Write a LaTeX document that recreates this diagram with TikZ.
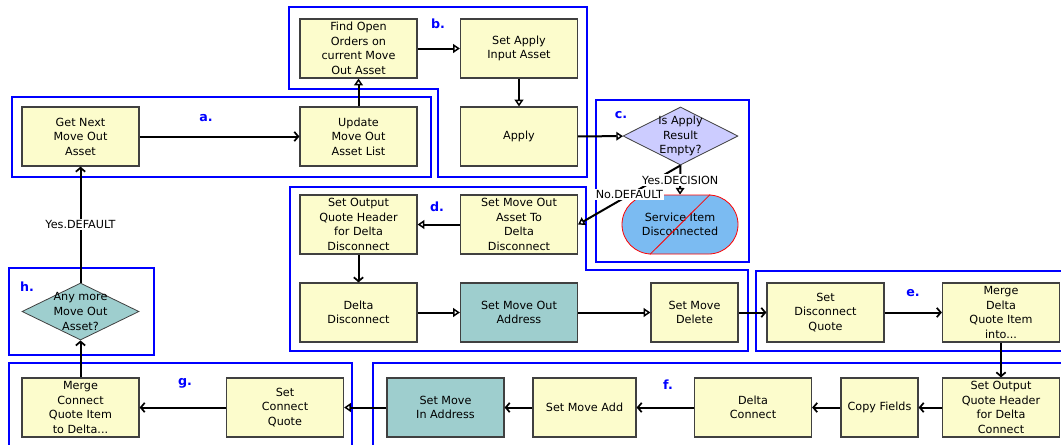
\documentclass[tikz,border=0pt]{standalone}
\usepackage{fontspec}
\setmainfont{DejaVu Sans}
\usetikzlibrary{arrows.meta,shapes.geometric,shapes.misc,calc}
\definecolor{boxfill}{HTML}{FCFCCC}
\definecolor{boxdraw}{HTML}{404040}
\definecolor{tealfill}{HTML}{9ECECE}
\definecolor{lav}{HTML}{CCCCFF}
\definecolor{svcfill}{HTML}{7BBBF2}
\definecolor{grp}{HTML}{0000FF}
\tikzset{
 txt/.style={font=\fontsize{8.4}{10.9}\selectfont},
 box/.style={draw=boxdraw, line width=0.9pt, fill=boxfill, minimum width=87.75pt, minimum height=44.25pt, align=center, inner sep=0pt, txt},
 tbox/.style={box, fill=tealfill},
 dia/.style={diamond, draw=boxdraw, line width=0.6pt, inner sep=0pt},
 dtext/.style={align=center, inner sep=0pt, txt},
 svcbox/.style={rounded rectangle, draw=red, line width=0.6pt, fill=svcfill, minimum width=87pt, minimum height=44.25pt, align=center, inner sep=0pt, txt},
 grpline/.style={draw=grp, line width=1pt},
 glabel/.style={text=grp, inner sep=0pt, font=\fontsize{9.5}{11}\selectfont\bfseries},
 conn/.style={line width=1.5pt, -{Straight Barb[length=3pt,width=7pt,line width=1.3pt]}},
 oconn/.style={line width=1.5pt, -{Triangle[open,length=5pt,width=6.5pt,line width=1.1pt]}},
 clabel/.style={fill=white, inner sep=1pt, font=\fontsize{8.4}{10}\selectfont},
}
\begin{document}
\begin{tikzpicture}[x=0.75pt,y=-0.75pt]
\clip (0,0) rectangle (1061,444);
\fill[white] (0,0) rectangle (1061,444);
% groups
\draw[grpline] (12,97) rectangle (431,177);
\draw[grpline] (289,7) -- (587,7) -- (587,177) -- (438,177) -- (438,89) -- (289,89) -- cycle;
\draw[grpline] (596,100) rectangle (749,262);
\draw[grpline] (290,187) -- (586,187) -- (586,270) -- (748,270) -- (748,351) -- (290,351) -- cycle;
\draw[grpline] (756,271) rectangle (1075,351);
\draw[grpline] (373,363) rectangle (1075,460);
\draw[grpline] (9,363) rectangle (352,460);
\draw[grpline] (9,268) rectangle (154,355);
\node[glabel] (la) at (206,118) {a.};
\node[glabel] (lb) at (438,24) {b.};
\node[glabel] (lc) at (621,115) {c.};
\node[glabel] (ld) at (437,207) {d.};
\node[glabel] (le) at (913,293) {e.};
\node[glabel] (lf) at (668,385) {f.};
\node[glabel] (lg) at (185,383) {g.};
\node[glabel] (lh) at (27,287) {h.};
% nodes
\node[box] (gn) at (80.5,136.5) {Get Next\\Move Out\\Asset};
\node[box] (up) at (358.5,136.5) {Update\\Move Out\\Asset List};
\node[box] (fo) at (358.5,48.5) {Find Open\\Orders on\\current Move\\Out Asset};
\node[box] (sa) at (519,48.5) {Set Apply\\Input Asset};
\node[box] (ap) at (519,136.5) {Apply};
\node[dia, fill=lav, minimum width=86.25pt, minimum height=43.5pt, label={[dtext]center:Is Apply\\Result\\Empty?}] (c) at (680.5,136) {};
\node[svcbox] (svc) at (680,224.5) {Service Item\\Disconnected};
\draw[red, line width=0.6pt] ($(svc.south)+(-30,0)$) -- ($(svc.north)+(30,0)$);
\node[box] (smo) at (519,224.5) {Set Move Out\\Asset To\\Delta\\Disconnect};
\node[box] (soq) at (358.5,224.5) {Set Output\\Quote Header\\for Delta\\Disconnect};
\node[box] (dd) at (358.5,312.5) {Delta\\Disconnect};
\node[tbox] (sma) at (519,312.5) {Set Move Out\\Address};
\node[box, minimum width=65.25pt] (smd) at (694.5,312.5) {Set Move\\Delete};
\node[box] (sdq) at (825.5,312.5) {Set\\Disconnect\\Quote};
\node[box] (mdq) at (1001,312.5) {Merge\\Delta\\Quote Item\\into...};
\node[box] (soc) at (1001,407.5) {Set Output\\Quote Header\\for Delta\\Connect};
\node[box, minimum width=57.75pt] (cf) at (879.5,407.5) {Copy Fields};
\node[box] (dc) at (753,407.5) {Delta\\Connect};
\node[box, minimum width=77.25pt] (sadd) at (584.5,407.5) {Set Move Add};
\node[tbox] (smi) at (445.5,407.5) {Set Move\\In Address};
\node[box] (scq) at (285,407.5) {Set\\Connect\\Quote};
\node[box] (mcq) at (80.5,407.5) {Merge\\Connect\\Quote Item\\to Delta...};
\node[dia, fill=tealfill, minimum width=87.75pt, minimum height=42.75pt, label={[dtext]center:Any more\\Move Out\\Asset?}] (h) at (80.5,311.5) {};
% connectors
\draw[conn] (gn) -- (up);
\draw[oconn] (up) -- (fo);
\draw[oconn] (fo) -- (sa);
\draw[oconn] (sa) -- (ap);
\draw[oconn] (ap) -- (c);
\draw[oconn] (c.south) -- node[clabel]{No.DEFAULT} (smo.east);
\draw[oconn] (c.south) -- node[clabel]{Yes.DECISION} (svc.north);
\draw[oconn] (smo) -- (soq);
\draw[conn] (soq) -- (dd);
\draw[oconn] (dd) -- (sma);
\draw[oconn] (sma) -- (smd);
\draw[conn] (smd) -- (sdq);
\draw[conn] (sdq) -- (mdq);
\draw[conn] (mdq) -- (soc);
\draw[conn] (soc) -- (cf);
\draw[conn] (cf) -- (dc);
\draw[conn] (dc) -- (sadd);
\draw[conn] (sadd) -- (smi);
\draw[oconn] (smi) -- (scq);
\draw[conn] (scq) -- (mcq);
\draw[conn] (mcq) -- (h.south);
\draw[conn] (h.north) -- node[clabel]{Yes.DEFAULT} (gn);
\end{tikzpicture}
\end{document}
